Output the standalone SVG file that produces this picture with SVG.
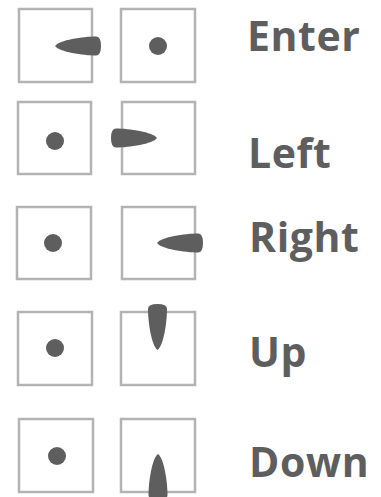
<svg xmlns="http://www.w3.org/2000/svg" xmlns:xlink="http://www.w3.org/1999/xlink" width="381" height="497" viewBox="0 0 381 497">
<style>
.box{fill:#fff;stroke:#b3b3b3;stroke-width:2.5}
.ink{fill:#5e5e5e}
.lbl{font-family:"Open Sans","Liberation Sans",sans-serif;font-weight:bold;font-size:41px;letter-spacing:0.6px;fill:#5e5e5e}
</style>
<defs>
<path id="drop" d="M0,0 C4,-6 28,-9.5 41,-9.5 Q46,-9.5 46,0 Q46,9.5 41,9.5 C28,9.5 4,6 0,0 Z"/>
</defs>
<rect width="381" height="497" fill="#fff"/>
<g id="enter">
<rect class="box" x="19" y="9" width="73" height="73"/>
<rect class="box" x="121" y="9" width="74" height="73"/>
<circle class="ink" cx="158" cy="46" r="9"/>
<use class="ink" xlink:href="#drop" transform="translate(55,46)"/>
<text class="lbl" x="247" y="51">Enter</text>
</g>
<g id="left">
<rect class="box" x="18" y="102" width="73" height="72"/>
<rect class="box" x="122" y="102" width="73" height="72"/>
<circle class="ink" cx="55" cy="141" r="9"/>
<use class="ink" xlink:href="#drop" transform="translate(157,138) rotate(180)"/>
<text class="lbl" x="248" y="168">Left</text>
</g>
<g id="right">
<rect class="box" x="17" y="207" width="74" height="72"/>
<rect class="box" x="122" y="207" width="73" height="72"/>
<circle class="ink" cx="53" cy="243" r="9"/>
<use class="ink" xlink:href="#drop" transform="translate(157,243)"/>
<text class="lbl" x="249" y="252">Right</text>
</g>
<g id="up">
<rect class="box" x="18" y="312" width="74" height="73"/>
<rect class="box" x="121" y="312" width="74" height="73"/>
<circle class="ink" cx="55" cy="348" r="9"/>
<use class="ink" xlink:href="#drop" transform="translate(157.5,350) rotate(-90)"/>
<text class="lbl" x="249" y="367">Up</text>
</g>
<g id="down">
<rect class="box" x="19" y="419" width="74" height="73"/>
<rect class="box" x="121" y="419" width="74" height="73"/>
<circle class="ink" cx="57" cy="456" r="9"/>
<use class="ink" xlink:href="#drop" transform="translate(158,454) rotate(90)"/>
<text class="lbl" x="249" y="477">Down</text>
</g>
</svg>
